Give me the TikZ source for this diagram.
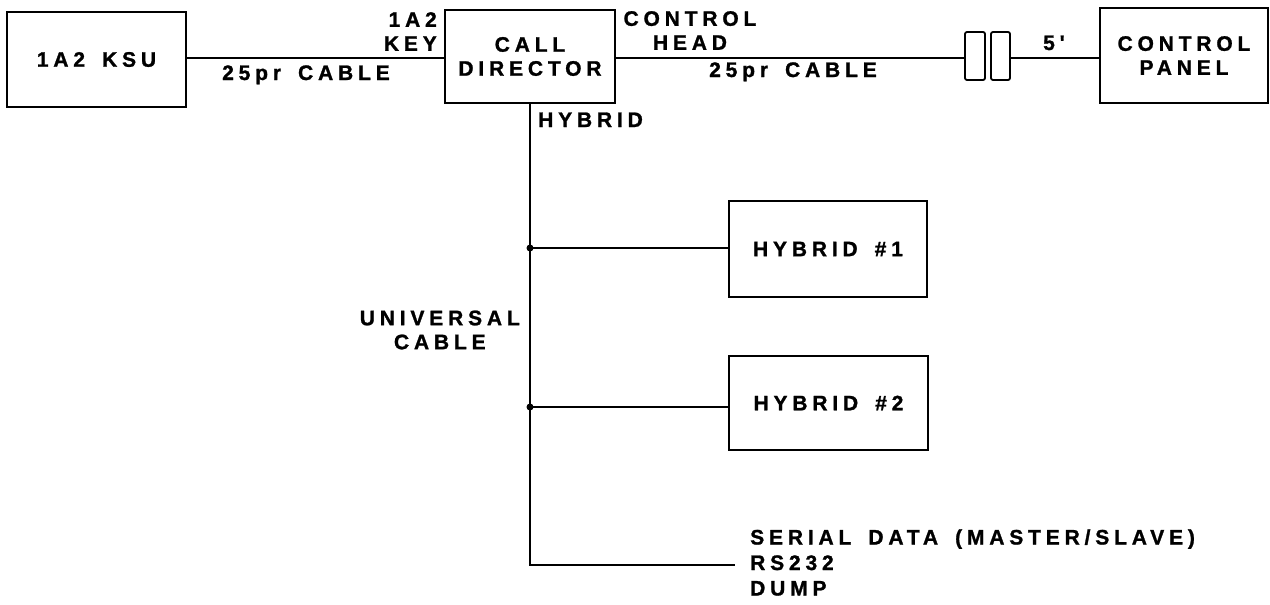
\documentclass[tikz,border=0pt]{standalone}
\usepackage{fontspec}
\newfontfamily\lbl[LetterSpace=23, WordSpace=1.6, FakeBold=1.2]{Liberation Sans}
\begin{document}
\begin{tikzpicture}[x=1pt,y=-1pt,
  every node/.style={font={\lbl\bfseries\fontsize{21}{24}\selectfont}},
  box/.style={draw, line width=2.2pt, inner sep=0pt, align=center},
  plug/.style={draw, line width=1.8pt, rounded corners=2pt, inner sep=0pt, minimum width=#1, minimum height=48pt},
  wire/.style={line width=2pt},
  lab/.style={inner sep=0pt},
  dot/.style={fill=black}]
\useasboundingbox (0,0) rectangle (1270,605);

\node[box, minimum width=179pt, minimum height=95pt] (ksu) at (96.5,59.5) {1A2 KSU};
\node[box, minimum width=170pt, minimum height=93pt] (cd) at (530,56.5) {CALL\\DIRECTOR};
\node[box, minimum width=168pt, minimum height=95pt] (cp) at (1184,55.5) {CONTROL\\PANEL};
\node[plug=20pt] (c1) at (975,56) {};
\node[plug=19pt] (c2) at (1000.5,56) {};
\node[box, minimum width=198pt, minimum height=96pt] (h1) at (828,249) {HYBRID \#1};
\node[box, minimum width=199pt, minimum height=94pt] (h2) at (828.5,403) {HYBRID \#2};

\coordinate (j1) at (530,248);
\coordinate (j2) at (530,407);
\coordinate (bend) at (530,565);
\coordinate (out) at (735,565);

\draw[wire] (ksu.east |- 0,58) -- (cd.west |- 0,58);
\draw[wire] (cd.east |- 0,58) -- (c1.west |- 0,58);
\draw[wire] (c2.east |- 0,58) -- (cp.west |- 0,58);
\draw[wire] (cd.south) -- (bend) -- (out);
\draw[wire] (j1) -- (j1 -| h1.west);
\draw[wire] (j2) -- (j2 -| h2.west);
\fill[dot] (j1) circle (3.5pt);
\fill[dot] (j2) circle (3.5pt);

\node[lab, anchor=base west] (l25a) at (222,80) {25pr CABLE};
\node[lab, anchor=east, align=right] (lkey) at (437,31.5) {1A2\\KEY};
\node[lab, align=center] (lch) at (690,30.5) {CONTROL\\HEAD};
\node[lab, anchor=base west] (l25b) at (709,77) {25pr CABLE};
\node[lab, anchor=base west] (l5) at (1043,50) {5'};
\node[lab, anchor=base west] (lhy) at (538,127) {HYBRID};
\node[lab, anchor=east, align=center] (luc) at (520,330) {UNIVERSAL\\CABLE};
\node[lab, anchor=west, align=left, font={\lbl\bfseries\fontsize{21}{25.5}\selectfont}] (lser) at (750,562.5) {SERIAL DATA (MASTER/SLAVE)\\RS232\\DUMP};
\end{tikzpicture}
\end{document}
